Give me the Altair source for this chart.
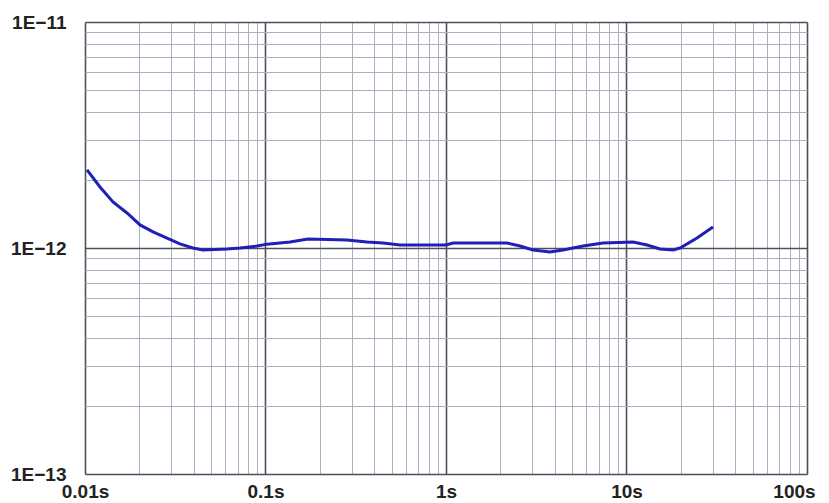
import altair as alt
import pandas as pd

# Averaging time (s) and deviation values
tau = [0.01026, 0.01211, 0.01429, 0.01709, 0.02018, 0.02381, 0.02846, 0.03357,
       0.03963, 0.04504, 0.06118, 0.07225, 0.08977, 0.1019, 0.1367, 0.1718,
       0.2828, 0.365, 0.4478, 0.5559, 1.0, 1.094, 2.178, 2.570, 3.034, 3.768,
       4.448, 5.741, 7.411, 10.87, 13.0, 15.35, 18.12, 19.79, 24.59, 30.14]
dev = [2.215e-12, 1.862e-12, 1.599e-12, 1.429e-12, 1.265e-12, 1.178e-12,
       1.107e-12, 1.042e-12, 1.0e-12, 0.98e-12, 0.99e-12, 1.0e-12, 1.02e-12,
       1.04e-12, 1.063e-12, 1.095e-12, 1.084e-12, 1.063e-12, 1.052e-12,
       1.031e-12, 1.031e-12, 1.052e-12, 1.052e-12, 1.02e-12, 0.98e-12,
       0.96e-12, 0.98e-12, 1.02e-12, 1.052e-12, 1.063e-12, 1.031e-12,
       0.99e-12, 0.98e-12, 1.0e-12, 1.107e-12, 1.239e-12]

x_ticks = [round(m * 10.0 ** d, 6) for d in range(-2, 2) for m in range(1, 10)] + [100.0]
y_ticks = [float(f"{m}e{d}") for d in range(-13, -11) for m in range(1, 10)] + [1e-11]

df = pd.DataFrame({"tau": tau, "dev": dev})

major = "abs(log(datum.value)/LN10 - round(log(datum.value)/LN10)) < 0.001"
grid_color = {"condition": {"test": major, "value": "#4b505c"}, "value": "#aab0c0"}
grid_width = {"condition": {"test": major, "value": 1.6}, "value": 1.0}
x_label_offset = {"condition": {"test": "datum.value >= 99", "value": -13}, "value": 0}

font = "Liberation Sans"

chart = alt.Chart(df).mark_line(color="#2020b8", strokeWidth=3).encode(
    x=alt.X("tau:Q",
            scale=alt.Scale(type="log", domain=[0.01, 100], nice=False),
            axis=alt.Axis(values=x_ticks, title=None, domain=False, ticks=False,
                          tickSize=0, labelPadding=8, labelOverlap=False,
                          labelFlush=False, labelBound=False,
                          labelOffset=x_label_offset,
                          labelFont=font, labelFontSize=19, labelFontWeight="bold",
                          labelColor="#222222",
                          labelExpr=f"({major}) ? datum.value + 's' : ''",
                          gridColor=grid_color, gridWidth=grid_width)),
    y=alt.Y("dev:Q",
            scale=alt.Scale(type="log", domain=[1e-13, 1e-11], nice=False),
            axis=alt.Axis(values=y_ticks, title=None, domain=False, ticks=False,
                          tickSize=0, labelPadding=19, labelOverlap=False,
                          labelFlush=False, labelBound=False,
                          labelFont=font, labelFontSize=19, labelFontWeight="bold",
                          labelColor="#222222", labelBaseline="middle",
                          labelExpr=f"({major}) ? '1E\u2212' + round(-log(datum.value)/LN10) : ''",
                          gridColor=grid_color, gridWidth=grid_width)),
).properties(
    width=722, height=452,
    autosize=alt.AutoSizeParams(type="none"),
    padding={"left": 77, "top": 14, "right": 14, "bottom": 28},
).configure_view(
    fill="#e1e7f5", stroke="#111111", strokeWidth=3
).configure(background="white")

chart.save("out.html", embed_options={"renderer": "svg", "actions": False})
